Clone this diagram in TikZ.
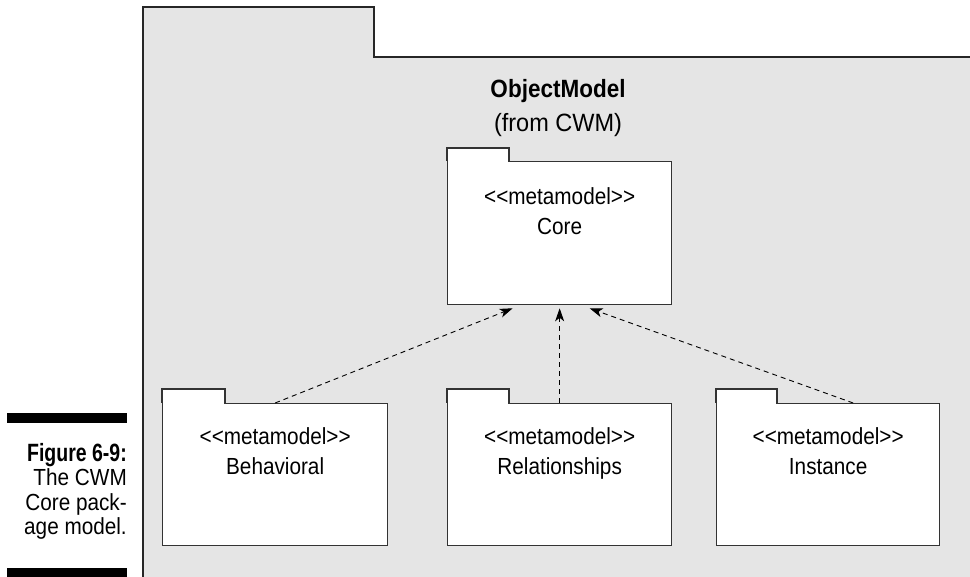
\documentclass[tikz,border=0pt]{standalone}
\usepackage{fontspec}
\setmainfont[FakeStretch=0.89, BoldFeatures={FakeStretch=0.78}]{Liberation Sans}
\newfontfamily\titlefont[FakeStretch=0.94, BoldFeatures={FakeStretch=0.9}]{Liberation Sans}
\usetikzlibrary{arrows.meta,calc}
\definecolor{bg}{HTML}{E5E5E5}
\definecolor{ln}{HTML}{333333}
\tikzset{
  pkgbody/.style={draw=ln, line width=1.3pt, fill=white, rectangle, inner sep=0pt, anchor=north west},
  pkgtab/.style={draw=ln, line width=1.3pt, line join=miter},
  pkgtext/.style={font=\fontsize{23.3}{28}\selectfont, inner sep=0pt, anchor=base},
  captext/.style={font=\fontsize{23.3}{25}\selectfont, inner sep=0pt, anchor=base east},
  capbold/.style={font=\fontsize{25}{25}\selectfont\bfseries, inner sep=0pt, anchor=base east},
  titletext/.style={font=\titlefont\fontsize{25}{28}\selectfont, inner sep=0pt, anchor=base},
  dep/.style={draw=black, line width=0.9pt, dash pattern=on 5pt off 4pt,
    -{Stealth[length=13pt,width=9pt,inset=3.5pt]}},
}
\begin{document}
\begin{tikzpicture}[x=1pt,y=-1pt]
\useasboundingbox (0,0) rectangle (970,577);
% outer package
\begin{scope}
  \clip (0,0) rectangle (970,577);
  \draw[fill=bg, draw=black!85, line width=1.6pt, line join=miter]
    (143,600) -- (143,7) -- (374,7) -- (374,57) -- (1000,57) -- (1000,600) -- cycle;
\end{scope}
% title
\node[titletext, font=\titlefont\fontsize{25}{28}\selectfont\bfseries] (title) at (558,98) {ObjectModel};
\node[titletext] (from) at (558,132) {(from CWM)};
% package bodies
\node[pkgbody, minimum width=224pt, minimum height=143pt] (core) at (447,161) {};
\node[pkgbody, minimum width=225pt, minimum height=142pt] (beh) at (162,403) {};
\node[pkgbody, minimum width=224pt, minimum height=142pt] (rel) at (447,403) {};
\node[pkgbody, minimum width=223pt, minimum height=142pt] (ins) at (716,403) {};
% tabs
\foreach \n/\w/\h in {core/62/13, beh/63/14, rel/62/14, ins/61/14} {
  \fill[white] ([xshift=0.7pt,yshift=-0.9pt]\n.north west) rectangle ([xshift=\w pt-0.7pt,yshift=\h pt]\n.north west);
  \draw[pkgtab] (\n.north west) -- ([yshift=\h pt]\n.north west) -- ([xshift=\w pt,yshift=\h pt]\n.north west) -- ([xshift=\w pt]\n.north west);
}
% package texts
\foreach \n/\name/\d in {core/Core/44, beh/Behavioral/42, rel/Relationships/42, ins/Instance/42} {
  \node[pkgtext] (\n s) at ([yshift=-\d pt]\n.north) {<{}<metamodel>{}>};
  \node[pkgtext] (\n n) at ([yshift=-\d pt-30pt]\n.north) {\name};
}
% dependencies
\draw[dep] (beh.north) -- ([xshift=-47pt,yshift=-3pt]core.south);
\draw[dep] (rel.north) -- ([yshift=-3pt]core.south);
\draw[dep] ([xshift=25pt]ins.north) -- ([xshift=30pt,yshift=-3pt]core.south);
% caption
\fill[black] (7,413) rectangle (127,423);
\fill[black] (7,568) rectangle (127,580);
\node[capbold] (cap1) at (127,461) {Figure 6-9:};
\node[captext] (cap2) at (127,485.5) {The CWM};
\node[captext] (cap3) at (127,510) {Core pack-};
\node[captext] (cap4) at (127,534) {age model.};
\end{tikzpicture}
\end{document}
